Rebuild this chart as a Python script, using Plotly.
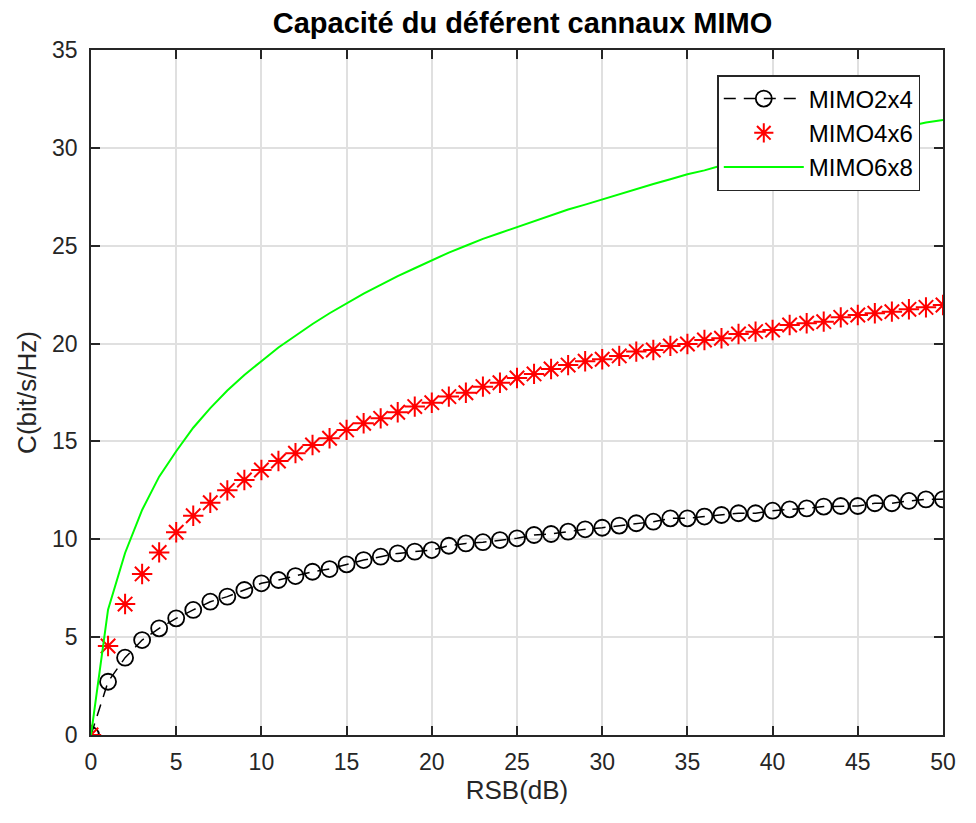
import plotly.graph_objects as go

rsb_db = list(range(0, 51))

mimo2x4 = [0, 2.72, 3.95, 4.85, 5.45, 5.96, 6.39, 6.81, 7.07, 7.41,
           7.75, 7.92, 8.12, 8.34, 8.48, 8.72, 8.94, 9.11, 9.28, 9.37,
           9.45, 9.67, 9.79, 9.85, 9.96, 10.05, 10.22, 10.27, 10.39, 10.51,
           10.59, 10.70, 10.82, 10.90, 11.07, 11.07, 11.16, 11.24, 11.33, 11.33,
           11.46, 11.53, 11.58, 11.67, 11.70, 11.70, 11.84, 11.84, 11.96, 12.04,
           12.04]

mimo4x6 = [0, 4.55, 6.69, 8.23, 9.33, 10.36, 11.20, 11.87, 12.50, 13.03,
           13.54, 14.00, 14.40, 14.82, 15.16, 15.59, 15.93, 16.18, 16.49, 16.78,
           16.98, 17.29, 17.49, 17.80, 18.00, 18.24, 18.45, 18.70, 18.90, 19.10,
           19.20, 19.37, 19.59, 19.67, 19.88, 19.98, 20.18, 20.27, 20.49, 20.61,
           20.69, 20.95, 21.04, 21.12, 21.34, 21.46, 21.55, 21.63, 21.75, 21.85,
           21.97]

mimo6x8 = [0, 6.4, 9.3, 11.5, 13.2, 14.5, 15.7, 16.7, 17.6, 18.4,
           19.1, 19.8, 20.4, 21.0, 21.55, 22.05, 22.55, 23.0, 23.45, 23.85,
           24.25, 24.65, 25.0, 25.35, 25.65, 25.95, 26.25, 26.55, 26.85, 27.1,
           27.37, 27.65, 27.9, 28.15, 28.4, 28.65, 28.85, 29.1, 29.3, 29.5,
           29.7, 29.9, 30.1, 30.3, 30.45, 30.65, 30.8, 31.0, 31.1, 31.3,
           31.43]

x_ticks = [0, 5, 10, 15, 20, 25, 30, 35, 40, 45, 50]
y_ticks = [0, 5, 10, 15, 20, 25, 30, 35]

FONT = "Liberation Sans, Arial, sans-serif"
AX = "#262626"

fig = go.Figure()
fig.add_trace(go.Scatter(
    x=rsb_db, y=mimo2x4, name="MIMO2x4", mode="lines+markers",
    line=dict(color="black", width=1.5, dash="12px,8px"),
    marker=dict(symbol="circle-open", size=16, color="black",
                line=dict(color="black", width=1.8)),
))
fig.add_trace(go.Scatter(
    x=rsb_db, y=mimo4x6, name="MIMO4x6", mode="markers",
    marker=dict(symbol="asterisk-open", size=17, color="red",
                line=dict(color="red", width=2)),
))
fig.add_trace(go.Scatter(
    x=rsb_db, y=mimo6x8, name="MIMO6x8", mode="lines",
    line=dict(color="#00ff00", width=2),
))

# page body has an 8px margin; figure coordinates are offset by it
W, H = 960, 805
ml, mr, mt, mb = 83, 14, 42, 78
pw, ph = W - ml - mr, H - mt - mb

fig.update_layout(
    width=W, height=H,
    margin=dict(l=ml, r=mr, t=mt, b=mb, pad=0),
    paper_bgcolor="white", plot_bgcolor="white",
    font=dict(family=FONT, size=23, color=AX),
    title=dict(text="<b>Capacité du déférent cannaux MIMO</b>",
               x=(ml + pw / 2) / W, xanchor="center",
               y=1 - 15 / H, yanchor="middle",
               font=dict(family=FONT, size=29, color="black")),
    showlegend=True,
    legend=dict(
        x=(923 - ml) / pw, xanchor="right",
        y=1 - (67 - mt) / ph, yanchor="top",
        bgcolor="white", bordercolor=AX, borderwidth=1.5,
        font=dict(family=FONT, size=24, color="black"),
        itemwidth=80, tracegroupgap=2,
    ),
    xaxis=dict(
        range=[0, 50], tickvals=x_ticks, ticks="inside", ticklen=9,
        tickwidth=1.5, tickcolor=AX, showline=True, linecolor=AX,
        linewidth=1.5, mirror="ticks", showgrid=True, gridcolor="#e0e0e0",
        gridwidth=1.5, zeroline=False, ticklabelstandoff=6,
        title=dict(text="RSB(dB)", font=dict(size=26, color=AX), standoff=6),
        tickfont=dict(size=23, color=AX),
    ),
    yaxis=dict(
        range=[0, 35], tickvals=y_ticks, ticks="inside", ticklen=9,
        tickwidth=1.5, tickcolor=AX, showline=True, linecolor=AX,
        linewidth=1.5, mirror="ticks", showgrid=True, gridcolor="#e0e0e0",
        gridwidth=1.5, zeroline=False, ticklabelstandoff=7,
        title=dict(text="C(bit/s/Hz)", font=dict(size=26, color=AX), standoff=8),
        tickfont=dict(size=23, color=AX),
    ),
)

fig.write_html("out.html", config={"displayModeBar": False})
